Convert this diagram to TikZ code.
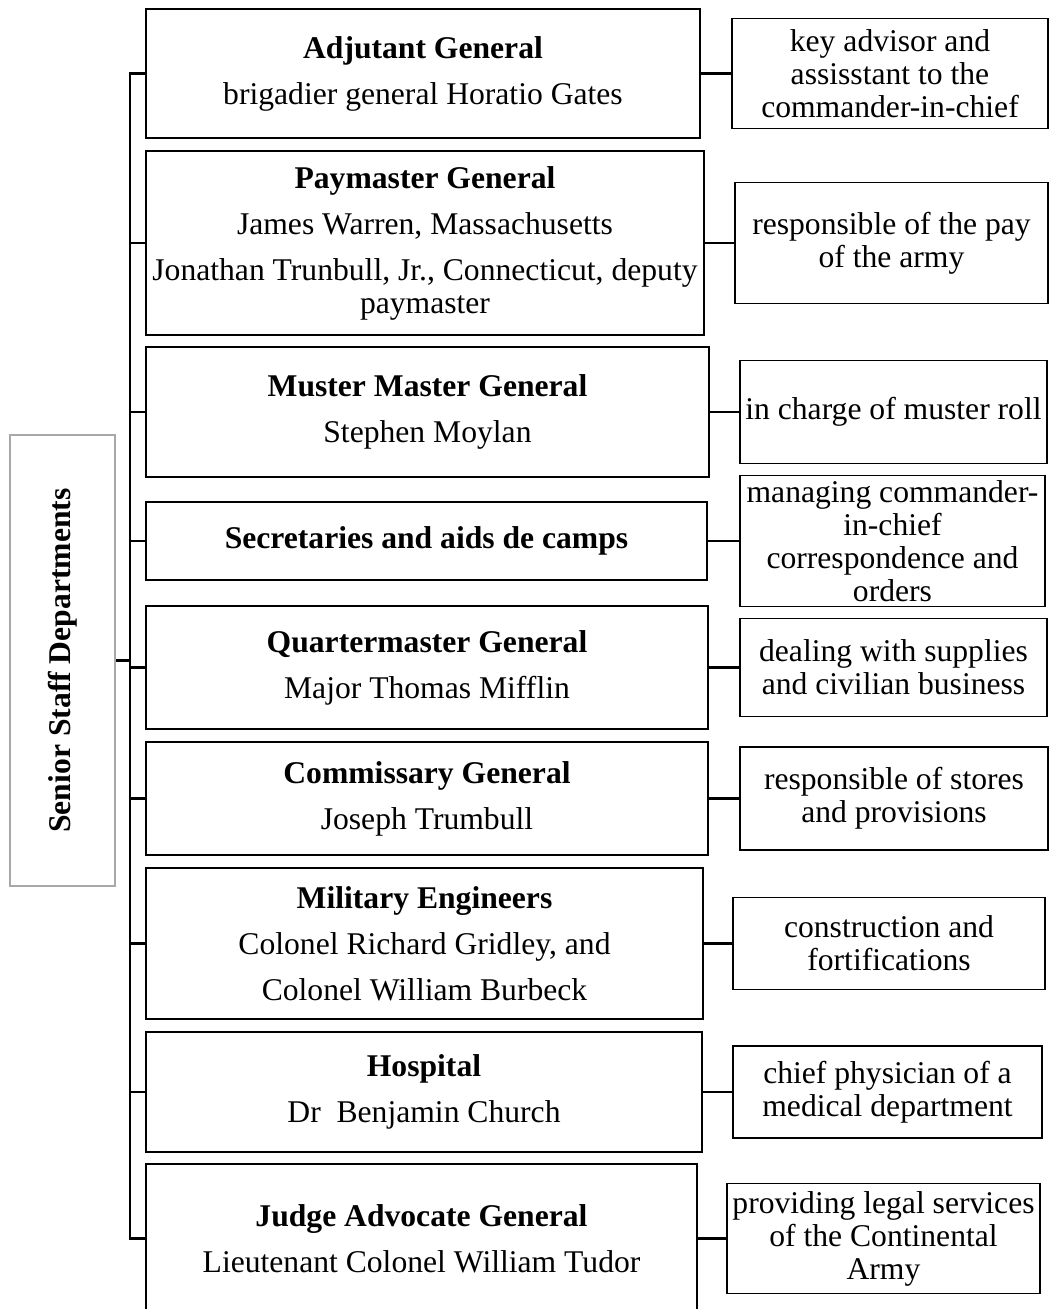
\documentclass[tikz,border=0pt]{standalone}
\usepackage{fontspec}
\setmainfont{Liberation Serif}
\usetikzlibrary{positioning}
\definecolor{rootgray}{HTML}{A8A8A8}

\begin{document}
\begin{tikzpicture}[
  x=0.02cm, y=-0.02cm,
  dept/.style={draw,line width=1.1pt,align=center,inner sep=1pt,font=\fontsize{18}{18.8}\selectfont},
  duty/.style={draw,line width=1.1pt,align=center,inner sep=1pt,font=\fontsize{18}{18.8}\selectfont},
  wire/.style={draw=black,line width=1.5pt}
]
\useasboundingbox (0,0) rectangle (1049,1309);

% --- root ---
\node[draw=rootgray,line width=1.4pt,minimum width=2.1cm,minimum height=9.02cm,inner sep=0pt] (root) at (62.5,660.5)
  {\rotatebox{90}{\fontsize{18}{20}\selectfont\bfseries Senior Staff Departments}};

% --- departments ---
\node[dept,minimum width=11.08cm,minimum height=2.58cm] (adj) at (423,73.5)
  {\textbf{Adjutant General}\\[7.4pt] brigadier general Horatio Gates};
\node[dept,minimum width=11.16cm,minimum height=3.68cm] (pay) at (425,243)
  {\textbf{Paymaster General}\\[7.4pt] James Warren, Massachusetts\\[7.4pt] Jonathan Trunbull, Jr., Connecticut, deputy\\ paymaster};
\node[dept,minimum width=11.26cm,minimum height=2.60cm] (muster) at (427.5,412)
  {\textbf{Muster Master General}\\[7.4pt] Stephen Moylan};
\node[dept,minimum width=11.22cm,minimum height=1.56cm] (secr) at (426.5,541)
  {\textbf{Secretaries and aids de camps}};
\node[dept,minimum width=11.24cm,minimum height=2.46cm] (quart) at (427,667.5)
  {\textbf{Quartermaster General}\\[7.4pt] Major Thomas Mifflin};
\node[dept,minimum width=11.24cm,minimum height=2.26cm] (comm) at (427,798.5)
  {\textbf{Commissary General}\\[7.4pt] Joseph Trumbull};
\node[dept,minimum width=11.14cm,minimum height=3.02cm] (eng) at (424.5,943.5)
  {\textbf{Military Engineers}\\[7.4pt] Colonel Richard Gridley, and\\[7.4pt] Colonel William Burbeck};
\node[dept,minimum width=11.12cm,minimum height=2.40cm] (hosp) at (424,1092)
  {\textbf{Hospital}\\[7.4pt] Dr\ \ Benjamin Church};
\node[dept,minimum width=11.02cm,minimum height=2.98cm] (judge) at (421.5,1238.5)
  {\textbf{Judge Advocate General}\\[7.4pt] Lieutenant Colonel William Tudor};

% --- duties ---
\node[duty,minimum width=6.32cm,minimum height=2.20cm] (adjduty) at (890,73.5)
  {key advisor and\\ assisstant to the\\ commander-in-chief};
\node[duty,minimum width=6.26cm,minimum height=2.42cm] (payduty) at (891.5,243)
  {responsible of the pay\\ of the army};
\node[duty,minimum width=6.14cm,minimum height=2.06cm] (musterduty) at (893.5,412)
  {in charge of muster roll};
\node[duty,minimum width=6.10cm,minimum height=2.62cm] (secrduty) at (892.5,541)
  {managing commander-\\ in-chief\\ correspondence and\\ orders};
\node[duty,minimum width=6.14cm,minimum height=1.96cm] (quartduty) at (893.5,667.5)
  {dealing with supplies\\ and civilian business};
\node[duty,minimum width=6.16cm,minimum height=2.06cm] (commduty) at (894,798.5)
  {responsible of stores\\ and provisions};
\node[duty,minimum width=6.24cm,minimum height=1.84cm] (engduty) at (889,943.5)
  {construction and\\ fortifications};
\node[duty,minimum width=6.18cm,minimum height=1.84cm] (hospduty) at (887.5,1092)
  {chief physician of a\\ medical department};
\node[duty,minimum width=6.26cm,minimum height=2.20cm] (judgeduty) at (883.5,1238.5)
  {providing legal services\\ of the Continental\\ Army};

% --- bus on the left ---
\coordinate (bus) at (130,0);
\draw[wire] (adj.west) -| (bus |- judge.west) -- (judge.west);
\draw[wire] (root.east) -- (root.east -| bus);
\draw[wire] (pay.west) -- (pay.west -| bus);
\draw[wire] (muster.west) -- (muster.west -| bus);
\draw[wire] (secr.west) -- (secr.west -| bus);
\draw[wire] (quart.west) -- (quart.west -| bus);
\draw[wire] (comm.west) -- (comm.west -| bus);
\draw[wire] (eng.west) -- (eng.west -| bus);
\draw[wire] (hosp.west) -- (hosp.west -| bus);

% --- departments to duties ---
\draw[wire] (adj.east) -- (adjduty.west);
\draw[wire] (pay.east) -- (payduty.west);
\draw[wire] (muster.east) -- (musterduty.west);
\draw[wire] (secr.east) -- (secrduty.west);
\draw[wire] (quart.east) -- (quartduty.west);
\draw[wire] (comm.east) -- (commduty.west);
\draw[wire] (eng.east) -- (engduty.west);
\draw[wire] (hosp.east) -- (hospduty.west);
\draw[wire] (judge.east) -- (judgeduty.west);
\end{tikzpicture}
\end{document}
